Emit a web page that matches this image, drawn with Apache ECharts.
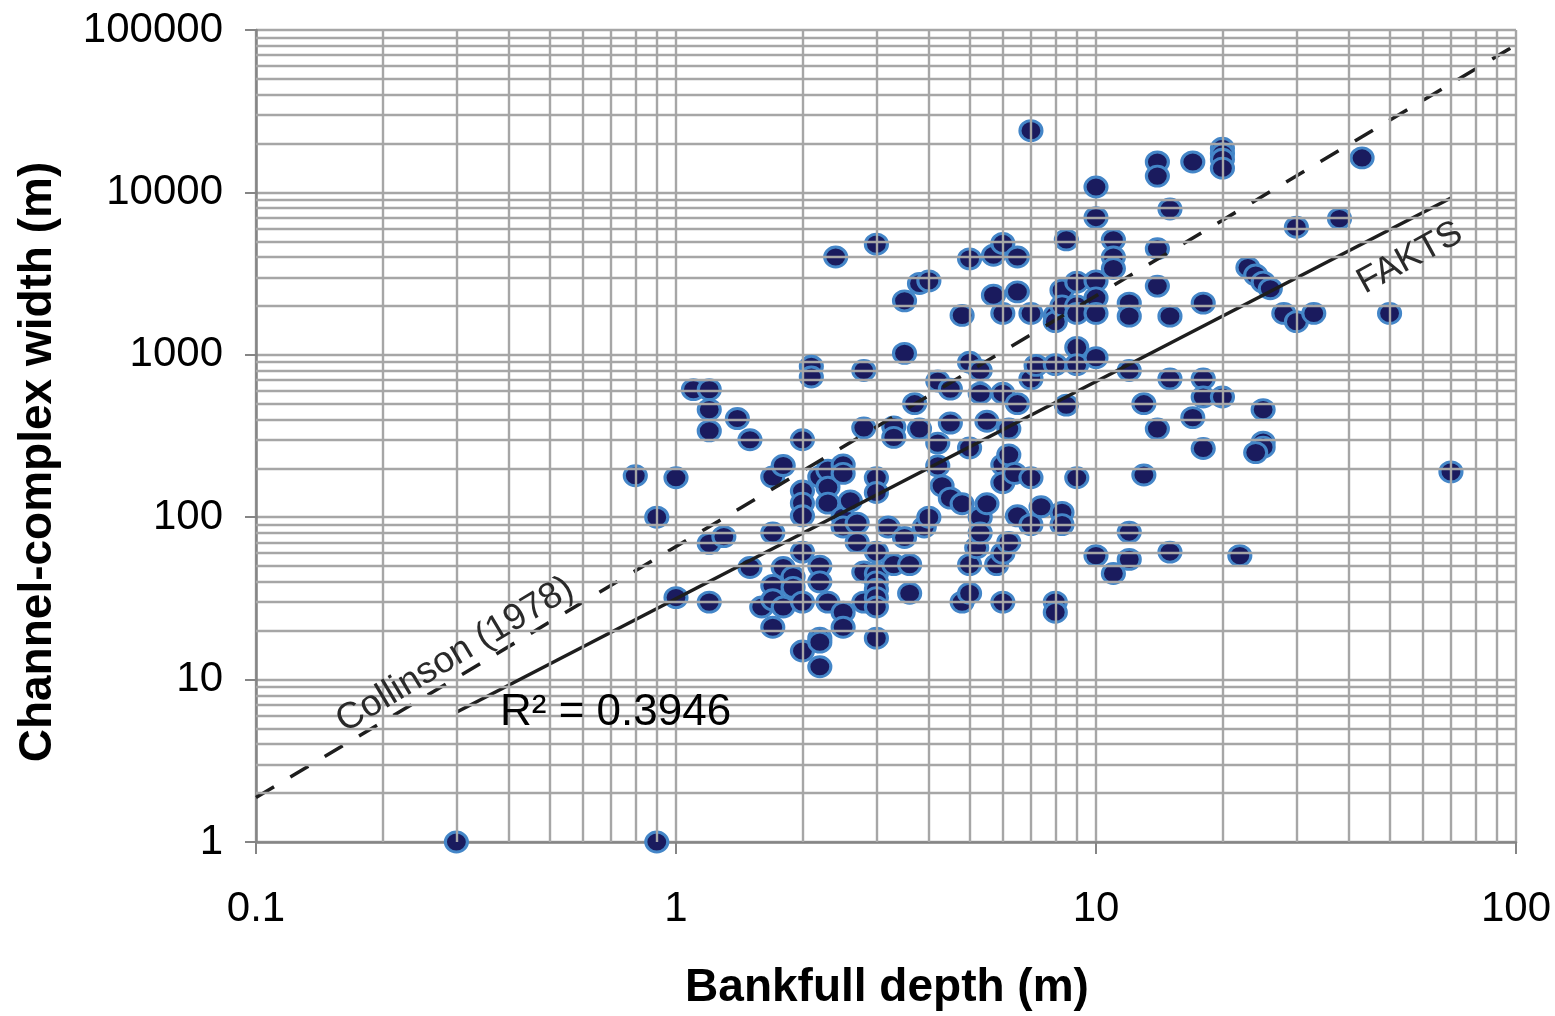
<!DOCTYPE html>
<html>
<head>
<meta charset="utf-8">
<script src="https://cdn.jsdelivr.net/npm/echarts@6/dist/echarts.min.js"></script>
<style>
html,body{margin:0;padding:0;background:#fff;}
#chart{width:1555px;height:1016px;}
</style>
</head>
<body>
<div id="chart"></div>
<script>
// Bankfull depth (m)
const depth = [
  0.3,0.9,0.8,0.9,1,1,1.1,1.2,1.2,1.2,
  1.2,1.3,1.2,1.4,1.5,1.5,1.6,1.7,1.8,1.7,
  1.7,1.7,1.7,1.8,1.8,1.9,1.9,2,2,2,
  2,2,2,2,2.1,2.1,2.2,2.3,2.3,2.3,
  2.2,2.2,2.2,2.2,2.2,2.3,2.4,2.5,2.5,2.5,
  2.5,2.5,2.5,2.6,2.7,2.7,2.8,2.8,2.8,2.8,
  3,3,3,3,3,3,3,3,3,3,
  3.2,3.3,3.3,3.3,3.5,3.5,3.5,3.6,3.6,3.7,
  3.8,3.8,3.9,4,4,4.2,4.2,4.2,4.3,4.5,
  4.5,4.5,4.8,4.8,4.8,5,5,5,5,5,
  5.2,5.3,5.3,5.3,5.3,5.5,5.5,5.7,5.7,5.8,
  6,6,6,6,6,6,6,6.2,6.2,6.2,
  6.4,6.5,6.5,6.5,6.5,7,7,7,7,7,
  7.2,7.4,8,8,8,8,8,8.3,8.3,8.3,
  8.3,8.5,8.5,9,9,9,9,9,9,10,
  10,10,10,10,10,10,11,11,11,11,
  12,12,12,12,12,13,13,14,14,14,
  14,14,15,15,15,15,17,17,18,18,
  18,18,20,20,20,20,20,22,23,24,
  25,26,25,25,25,24,28,30,30,33,
  38,43,50,70
];
// Channel-complex width (m)
const width = [
  1,1,180,100,175,32,610,610,460,340,
  69,76,30,405,300,49,28,177,208,80,
  38,31,21,49,28,43,37,300,145,122,
  102,61,30,15,850,730,177,195,153,122,
  50,40,18,17,12,30,4000,210,186,100,
  87,26,21,126,92,70,800,355,46,30,
  4800,175,142,61,45,40,36,32,28,18,
  87,360,310,51,2150,1020,75,51,34,500,
  2750,350,87,2850,100,690,286,207,156,615,
  380,131,1750,121,30,3900,900,267,51,34,
  65,800,580,100,80,390,121,4100,2330,51,
  4850,1800,580,210,163,60,30,350,242,70,
  186,4000,2440,500,102,24000,1800,710,175,90,
  860,116,1750,1600,870,30,26,2500,2000,107,
  90,5100,490,2800,2000,1800,1110,870,175,10800,
  7000,2850,2240,1800,960,58,5100,4000,3400,45,
  2080,1730,800,81,55,500,182,15400,12600,4500,
  2650,350,7900,1730,710,61,15400,410,2080,710,
  550,265,18700,17300,16000,14100,550,58,3450,3100,
  2800,2550,460,290,270,250,1800,6100,1600,1800,
  6900,16300,1800,190
];
// Trend lines (end points)
const faktsX = [0.3, 70];
const faktsY = [6.3, 9240];
const collinsonX = [0.1, 100];
const collinsonY = [1.88, 81000];
// axis ranges and labels
const xRange = [0.1, 100];
const yRange = [1, 100000];
const rSquaredLabel = 'R² = 0.3946';

const points = depth.map((d, i) => [d, width[i]]);
const toPairs = (xs, ys) => xs.map((x, i) => [x, ys[i]]);

// minor grid lines at 2..9 x each decade
function minorValues(lo, hi) {
  const out = [];
  for (let p = Math.round(Math.log10(lo)); p < Math.round(Math.log10(hi)); p++) {
    for (let m = 2; m <= 9; m++) out.push(+(m * Math.pow(10, p)).toPrecision(6));
  }
  return out;
}
const gridColor = '#a6a6a6';
const gridWidth = 2.4;
const minorLines = [].concat(
  minorValues(xRange[0], xRange[1]).map(v => ({ xAxis: v })),
  minorValues(yRange[0], yRange[1]).map(v => ({ yAxis: v }))
);

const fmt = v => String(+(+v).toPrecision(6));
const FONT = '"Liberation Sans", Arial, sans-serif';

const chart = echarts.init(document.getElementById('chart'), null, { renderer: 'canvas' });
chart.setOption({
  animation: false,
  backgroundColor: '#ffffff',
  textStyle: { fontFamily: FONT },
  grid: { left: 256, right: 39, top: 30, bottom: 174, containLabel: false, outerBoundsMode: 'none' },
  xAxis: {
    type: 'log', logBase: 10, min: xRange[0], max: xRange[1],
    axisLine: { show: true, lineStyle: { color: '#858585', width: 2.5 } },
    axisTick: { show: true, length: 12, lineStyle: { color: '#858585', width: 2 } },
    axisLabel: { formatter: fmt, color: '#000', fontSize: 42, margin: 46, fontFamily: FONT },
    splitLine: { show: true, lineStyle: { color: gridColor, width: gridWidth } },
    minorTick: { show: false }, minorSplitLine: { show: false }
  },
  yAxis: {
    type: 'log', logBase: 10, min: yRange[0], max: yRange[1],
    axisLine: { show: true, lineStyle: { color: '#858585', width: 2.5 } },
    axisTick: { show: true, length: 11, lineStyle: { color: '#858585', width: 2 } },
    axisLabel: { formatter: fmt, color: '#000', fontSize: 42, margin: 33, fontFamily: FONT },
    splitLine: { show: true, lineStyle: { color: gridColor, width: gridWidth } },
    minorTick: { show: false }, minorSplitLine: { show: false }
  },
  graphic: [
    { type: 'text', x: 887, y: 988, z: 10,
      style: { text: 'Bankfull depth (m)', fontSize: 46, fontWeight: 'bold', fill: '#000',
        align: 'center', verticalAlign: 'middle', fontFamily: FONT } },
    { type: 'text', x: 38, y: 462, rotation: Math.PI / 2, z: 10,
      style: { text: 'Channel-complex width (m)', fontSize: 46, fontWeight: 'bold', fill: '#000',
        align: 'center', verticalAlign: 'middle', fontFamily: FONT } },
    { type: 'text', x: 500, y: 713, z: 10,
      style: { text: rSquaredLabel, fontSize: 44, fill: '#000', align: 'left', verticalAlign: 'middle',
        fontFamily: FONT } },
    { type: 'text', x: 455, y: 655, rotation: 0.54, z: 10,
      style: { text: 'Collinson (1978)', fontSize: 37, fill: '#2a2a2a', align: 'center', verticalAlign: 'middle',
        fontFamily: FONT } },
    { type: 'text', x: 1410, y: 258, rotation: 0.5, z: 10,
      style: { text: 'FAKTS', fontSize: 36, fill: '#2a2a2a', align: 'center', verticalAlign: 'middle',
        fontFamily: FONT } }
  ],
  series: [
    {
      name: 'minorGrid', type: 'line', data: [], z: 1, silent: true,
      markLine: {
        silent: true, symbol: ['none', 'none'], label: { show: false },
        lineStyle: { color: gridColor, width: gridWidth, type: 'solid' },
        emphasis: { disabled: true },
        animation: false,
        data: minorLines
      }
    },
    {
      name: 'Data', type: 'scatter', data: points, z: 3,
      symbol: 'circle', symbolSize: [22, 20],
      itemStyle: { color: '#1a1b5e', borderColor: '#4486c8', borderWidth: 3, opacity: 1 }
    },
    {
      name: 'FAKTS', type: 'line', data: toPairs(faktsX, faktsY), z: 4,
      symbol: 'none', lineStyle: { color: '#1e1e1e', width: 3.5, type: 'solid' }
    },
    {
      name: 'Collinson', type: 'line', data: toPairs(collinsonX, collinsonY), z: 4,
      symbol: 'none', lineStyle: { color: '#1e1e1e', width: 3.5, type: [21, 19] }
    }
  ]
});
</script>
</body>
</html>
